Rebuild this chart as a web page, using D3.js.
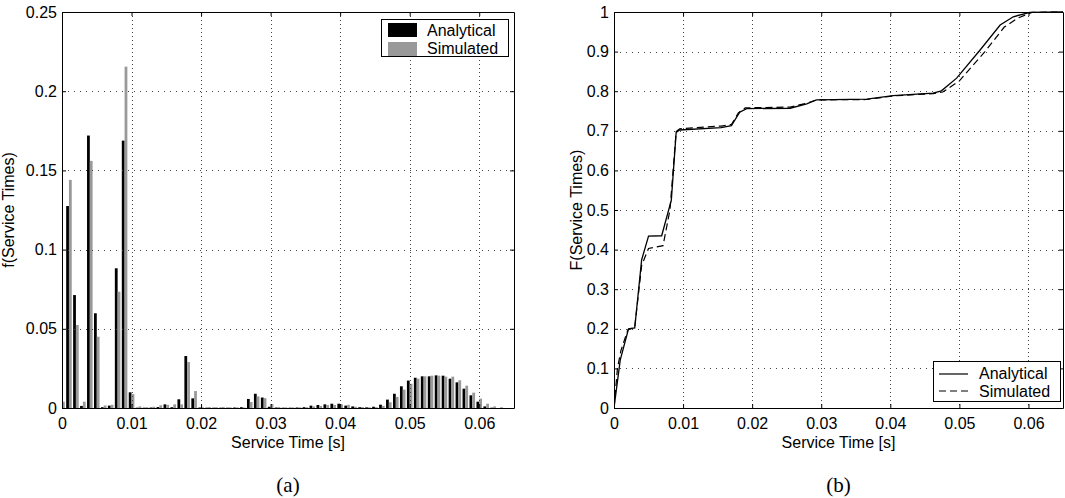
<!DOCTYPE html>
<html>
<head>
<meta charset="utf-8">
<script src="https://cdn.jsdelivr.net/npm/d3@7"></script>
<style>
  body { margin: 0; background: #fff; }
  text { font-family: 'Liberation Sans', Arial, Helvetica, sans-serif; }
  text.caption { font-family: 'Liberation Serif', 'Times New Roman', serif; }
</style>
</head>
<body>
<svg id="chart"></svg>
<script>
// --- data ---
// histogram bins, in ms
let binMs = [0, 1, 2, 3, 4, 5, 6, 7, 8, 9, 10, 11, 12, 13, 14, 15, 16, 17, 18, 19,
  20, 21, 22, 23, 24, 25, 26, 27, 28, 29, 30, 31, 32, 33, 34, 35, 36, 37, 38, 39,
  40, 41, 42, 43, 44, 45, 46, 47, 48, 49, 50, 51, 52, 53, 54, 55, 56, 57, 58, 59,
  60, 61, 62, 63, 64]
let pdfAnalytical = [0, 0.1275, 0.0713, 0.0013, 0.172, 0.0598, 0.0005, 0.0015, 0.0882, 0.1688,
  0.0099, 0.0002, 0.0002, 0.0003, 0.0006, 0.0023, 0.0005, 0.0055, 0.0328, 0.0061,
  0.0003, 0.0002, 0.0002, 0.0002, 0.0002, 0.0003, 0.0005, 0.0057, 0.009, 0.0066,
  0.0008, 0.0003, 0.0002, 0.0002, 0.0003, 0.0005, 0.0015, 0.0019, 0.0023, 0.0027,
  0.0027, 0.0015, 0.001, 0.0005, 0.0004, 0.0008, 0.0021, 0.0053, 0.009, 0.0137,
  0.0173, 0.0191, 0.02, 0.02, 0.0206, 0.0204, 0.0185, 0.0162, 0.0122, 0.008,
  0.004, 0.001, 0.0002, 0, 0]
let pdfSimulated = [0.004, 0.144, 0.0524, 0.004, 0.156, 0.045, 0.0016, 0.002, 0.0734, 0.2155,
  0.0088, 0.001, 0.0005, 0.0008, 0.0017, 0.002, 0.0023, 0.0023, 0.029, 0.0107,
  0.0005, 0.0006, 0.0005, 0.0006, 0.0004, 0.0004, 0.0003, 0.0038, 0.0073, 0.0062,
  0.0025, 0.0006, 0.0004, 0.0004, 0.0004, 0.0005, 0.001, 0.0013, 0.0019, 0.0019,
  0.0023, 0.002, 0.0008, 0.0006, 0.0004, 0.0005, 0.0013, 0.0036, 0.007, 0.0116,
  0.0153, 0.0185, 0.02, 0.0204, 0.0204, 0.0198, 0.0198, 0.0175, 0.0141, 0.0097,
  0.0059, 0.0027, 0.001, 0.0005, 0]

// CDF curves
let cdfTimeA = [0, 0.0009, 0.0021, 0.003, 0.004, 0.005, 0.0069, 0.0083, 0.009, 0.0095,
  0.0155, 0.017, 0.0182, 0.0192, 0.0255, 0.0279, 0.0293, 0.0366, 0.0404, 0.0462,
  0.0474, 0.0496, 0.053, 0.0559, 0.0578, 0.0602, 0.065]
let cdfA = [0, 0.121, 0.2, 0.202, 0.374, 0.434, 0.435, 0.525, 0.696, 0.702,
  0.708, 0.713, 0.747, 0.756, 0.757, 0.768, 0.778, 0.780, 0.789, 0.795,
  0.801, 0.833, 0.904, 0.967, 0.988, 0.999, 1]
let cdfTimeS = [0, 0.0005, 0.001, 0.002, 0.003, 0.004, 0.005, 0.0071, 0.0081, 0.009,
  0.0095, 0.0155, 0.017, 0.018, 0.019, 0.0255, 0.028, 0.0293, 0.0366, 0.0404,
  0.0462, 0.0476, 0.05, 0.0537, 0.0565, 0.0585, 0.0605, 0.065]
let cdfS = [0, 0.1, 0.145, 0.197, 0.204, 0.36, 0.403, 0.41, 0.5, 0.698,
  0.705, 0.712, 0.716, 0.745, 0.758, 0.76, 0.77, 0.778, 0.779, 0.788,
  0.794, 0.798, 0.826, 0.9, 0.962, 0.985, 0.999, 1]

let xTicks = [0, 0.01, 0.02, 0.03, 0.04, 0.05, 0.06]
let yTicksA = [0, 0.05, 0.1, 0.15, 0.2, 0.25]
let yTicksB = [0, 0.1, 0.2, 0.3, 0.4, 0.5, 0.6, 0.7, 0.8, 0.9, 1]
let seriesNames = ['Analytical', 'Simulated']

// --- layout ---
let W = 1065, H = 498
let fontSize = 16
let svg = d3.select('#chart').attr('width', W).attr('height', H)
svg.append('rect').attr('width', W).attr('height', H).attr('fill', '#fff')

let panelA = { left: 62, right: 514, top: 12, bottom: 408 }
let panelB = { left: 614, right: 1063, top: 12, bottom: 408 }

let xA = d3.scaleLinear().domain([0, 0.065]).range([panelA.left, panelA.right])
let yA = d3.scaleLinear().domain([0, 0.25]).range([panelA.bottom, panelA.top])
let xB = d3.scaleLinear().domain([0, 0.065]).range([panelB.left, panelB.right])
let yB = d3.scaleLinear().domain([0, 1]).range([panelB.bottom, panelB.top])

function styleAxis (g) {
  g.attr('font-size', fontSize).attr('font-family', null)
  g.selectAll('path, line').attr('stroke', '#000')
  g.selectAll('text').attr('fill', '#000')
}

function drawFrame (p, x, y, yTicks, yLabel, caption, labelX) {
  let g = svg.append('g')

  // dotted grid
  g.selectAll('.vgrid').data(xTicks.filter(t => t > 0))
    .enter().append('line')
    .attr('x1', d => Math.round(x(d)) + 0.5).attr('x2', d => Math.round(x(d)) + 0.5)
    .attr('y1', p.top).attr('y2', p.bottom)
    .attr('stroke', '#444').attr('stroke-width', 1).attr('stroke-dasharray', '1,3')
  g.selectAll('.hgrid').data(yTicks.filter(t => t > 0 && t < y.domain()[1]))
    .enter().append('line')
    .attr('y1', d => Math.round(y(d)) + 0.5).attr('y2', d => Math.round(y(d)) + 0.5)
    .attr('x1', p.left).attr('x2', p.right)
    .attr('stroke', '#444').attr('stroke-width', 1).attr('stroke-dasharray', '1,5')

  let fmt = d => String(d)
  g.append('g').attr('transform', 'translate(0,' + p.bottom + ')')
    .call(d3.axisBottom(x).tickValues(xTicks).tickSizeInner(-4).tickSizeOuter(0)
      .tickPadding(10).tickFormat(fmt))
    .call(styleAxis)
  g.append('g').attr('transform', 'translate(0,' + p.top + ')')
    .call(d3.axisTop(x).tickValues(xTicks).tickSizeInner(-4).tickSizeOuter(0).tickFormat(''))
    .call(styleAxis)
  g.append('g').attr('transform', 'translate(' + p.left + ',0)')
    .call(d3.axisLeft(y).tickValues(yTicks).tickSizeInner(-4).tickSizeOuter(0)
      .tickPadding(5).tickFormat(fmt))
    .call(styleAxis)
  g.append('g').attr('transform', 'translate(' + p.right + ',0)')
    .call(d3.axisRight(y).tickValues(yTicks).tickSizeInner(-4).tickSizeOuter(0).tickFormat(''))
    .call(styleAxis)

  let cx = (p.left + p.right) / 2
  g.append('text').attr('x', cx).attr('y', 448)
    .attr('text-anchor', 'middle').attr('font-size', fontSize)
    .text('Service Time [s]')
  g.append('text')
    .attr('transform', 'translate(' + labelX + ',' + (p.top + p.bottom) / 2 + ') rotate(-90)')
    .attr('text-anchor', 'middle').attr('font-size', fontSize)
    .text(yLabel)
  g.append('text').attr('class', 'caption').attr('x', cx).attr('y', 492)
    .attr('text-anchor', 'middle').attr('font-size', 21)
    .text(caption)
}

// --- panel (a): histogram ---
svg.append('clipPath').attr('id', 'clipA').append('rect')
  .attr('x', panelA.left).attr('y', panelA.top)
  .attr('width', panelA.right - panelA.left).attr('height', panelA.bottom - panelA.top)

let barW = 0.0004
let bars = svg.append('g').attr('clip-path', 'url(#clipA)')
let binData = binMs.map((ms, i) => ({ t: ms / 1000, a: pdfAnalytical[i], s: pdfSimulated[i] }))

bars.selectAll('.bar-a').data(binData).enter().append('rect')
  .attr('class', 'bar-a')
  .attr('x', d => xA(d.t - barW))
  .attr('width', d => xA(d.t) - xA(d.t - barW))
  .attr('y', d => yA(d.a))
  .attr('height', d => yA(0) - yA(d.a))
  .attr('fill', '#000')
bars.selectAll('.bar-s').data(binData).enter().append('rect')
  .attr('class', 'bar-s')
  .attr('x', d => xA(d.t))
  .attr('width', d => xA(d.t + barW) - xA(d.t))
  .attr('y', d => yA(d.s))
  .attr('height', d => yA(0) - yA(d.s))
  .attr('fill', '#999')

drawFrame(panelA, xA, yA, yTicksA, 'f(Service Times)', '(a)', 13.5)

// legend (a)
let legA = svg.append('g')
legA.append('rect').attr('x', 381.5).attr('y', 19.5).attr('width', 127).attr('height', 37)
  .attr('fill', '#fff').attr('stroke', '#000')
legA.selectAll('.sw').data(seriesNames).enter().append('rect')
  .attr('x', 388).attr('y', (d, i) => 23 + i * 19).attr('width', 29).attr('height', 14)
  .attr('fill', (d, i) => i === 0 ? '#000' : '#999')
legA.selectAll('.lt').data(seriesNames).enter().append('text')
  .attr('x', 427).attr('y', (d, i) => 36 + i * 18).attr('font-size', fontSize)
  .text(d => d)

// --- panel (b): CDF ---
svg.append('clipPath').attr('id', 'clipB').append('rect')
  .attr('x', panelB.left).attr('y', panelB.top - 2)
  .attr('width', panelB.right - panelB.left).attr('height', panelB.bottom - panelB.top + 4)

drawFrame(panelB, xB, yB, yTicksB, 'F(Service Times)', '(b)', 581.5)

let lineA = d3.line().x((d, i) => xB(cdfTimeA[i])).y(d => yB(d))
let lineS = d3.line().x((d, i) => xB(cdfTimeS[i])).y(d => yB(d))
let curves = svg.append('g').attr('clip-path', 'url(#clipB)')
curves.append('path').attr('d', lineS(cdfS))
  .attr('fill', 'none').attr('stroke', '#000').attr('stroke-width', 1.2)
  .attr('stroke-dasharray', '7,4')
curves.append('path').attr('d', lineA(cdfA))
  .attr('fill', 'none').attr('stroke', '#000').attr('stroke-width', 1.3)

// legend (b)
let legB = svg.append('g')
legB.append('rect').attr('x', 933.5).attr('y', 361.5).attr('width', 127).attr('height', 40)
  .attr('fill', '#fff').attr('stroke', '#000')
legB.selectAll('.ll').data(seriesNames).enter().append('line')
  .attr('x1', 939).attr('x2', 968)
  .attr('y1', (d, i) => 374 + i * 17).attr('y2', (d, i) => 374 + i * 17)
  .attr('stroke', '#000').attr('stroke-width', 1.2)
  .attr('stroke-dasharray', (d, i) => i === 0 ? null : '7,4')
legB.selectAll('.lt').data(seriesNames).enter().append('text')
  .attr('x', 979).attr('y', (d, i) => 379 + i * 18).attr('font-size', fontSize)
  .text(d => d)
</script>
</body>
</html>
